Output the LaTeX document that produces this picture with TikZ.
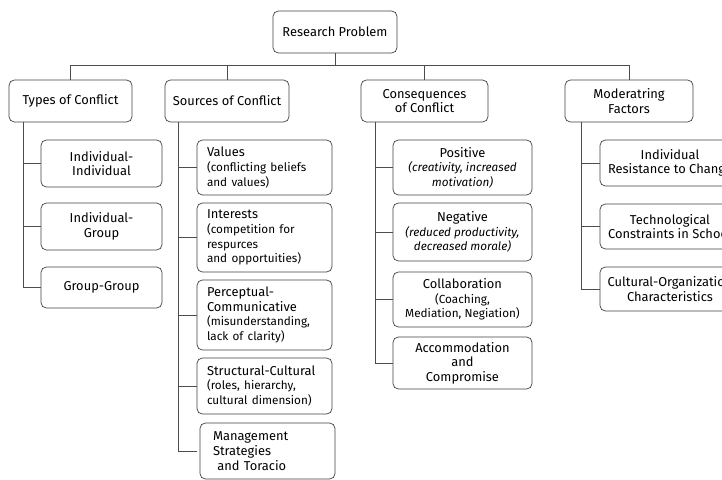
\documentclass[tikz,border=0pt]{standalone}
\usepackage{fontspec}
\setmainfont{Fira Sans}
\usepackage{tikz}

\newcommand{\desc}[1]{{\fontsize{10}{12.5}\selectfont #1}}

\begin{document}
\begin{tikzpicture}[x=0.03cm,y=-0.03cm,
          box/.style={draw=black!75, line width=0.6pt, rounded corners=0.16cm, align=center,
                      font=\fontsize{11}{12.5}\selectfont, inner sep=2pt},
          sz/.style 2 args={minimum width=#1*0.03cm, minimum height=#2*0.03cm},
          lbox/.style={box, align=left, text width=#1*0.03cm},
          wire/.style={draw=black!70, line width=0.6pt}]
          \useasboundingbox (0,0) rectangle (722,480);
          \clip (0,0) rectangle (722,480);

          \node[box, sz={124}{42}] (rp) at (335,32) {Research Problem};

          \node[box, sz={123}{42}] (types) at (70.5,101) {Types of Conflict};
          \node[box, sz={124}{42}] (sources) at (227,101) {Sources of Conflict};
          \node[box, sz={127}{42}] (conseq) at (424.5,101) {Consequences\\of Conflict};
          \node[box, sz={128}{42}] (moder) at (629,101) {Moderatring\\Factors};

          % types of conflict
          \node[box, sz={121}{47}] (ii) at (101.5,163.5) {Individual-\\Individual};
          \node[box, sz={121}{47}] (ig) at (101.5,226.5) {Individual-\\Group};
          \node[box, sz={121}{41}] (gg) at (101.5,287.5) {Group-Group};

          % sources of conflict
          \node[lbox=115, sz={135}{55}] (val) at (264.5,167.5)
            {Values\\\desc{(conflicting beliefs}\\\desc{and values)}};
          \node[lbox=115, sz={135}{69}] (int) at (264.5,237.5)
            {Interests\\\desc{(competition for}\\\desc{respurces}\\\desc{and opportuities)}};
          \node[lbox=115, sz={135}{70}] (per) at (264.5,315)
            {Perceptual-\\Communicative\\\desc{(misunderstanding,}\\\desc{lack of clarity)}};
          \node[lbox=115, sz={135}{56}] (str) at (264.5,386)
            {Structural-Cultural\\\desc{(roles, hierarchy,}\\\desc{cultural dimension)}};
          \node[lbox=109, sz={135}{56}] (mgt) at (267.5,451) {Management\\Strategies\\\ and Toracio};

          % consequences of conflict
          \node[box, sz={139}{55}] (pos) at (462.5,167.5)
            {Positive\\\desc{\itshape(creativity, increased}\\\desc{\itshape motivation)}};
          \node[box, sz={139}{58}] (neg) at (462.5,232)
            {Negative\\\desc{\itshape(reduced productivity,}\\\desc{\itshape decreased morale)}};
          \node[box, sz={139}{55}] (col) at (462.5,299.5)
            {Collaboration\\\desc{(Coaching,}\\\desc{Mediation, Negiation)}};
          \node[box, sz={139}{52}] (acc) at (462.5,363) {Accommodation\\and\\Compromise};

          % moderating factors
          \node[box, sz={140}{46}] (ind) at (670,163) {Individual\\Resistance to Change};
          \node[box, sz={140}{45}] (tec) at (670,226.5) {Technological\\Constraints in School};
          \node[box, sz={140}{44}] (cul) at (670,289) {Cultural-Organization\\Characteristics};

          % top bus
          \draw[wire] (rp.south) -- ++(0,12) coordinate (bus);
          \draw[wire] (types.north) |- (bus) -| (moder.north);
          \draw[wire] (sources.north) -- (sources.north |- bus);
          \draw[wire] (conseq.north) -- (conseq.north |- bus);

          % spines
          \coordinate (tsp) at (23,122);
          \coordinate (ssp) at (178,122);
          \coordinate (csp) at (375,122);
          \coordinate (msp) at (581,122);

          \draw[wire] (tsp) |- (gg.west);
          \foreach \c in {ii,ig} \draw[wire] (tsp |- \c.west) -- (\c.west);

          \draw[wire] (ssp) |- (mgt.west -| val.west);
          \foreach \c in {val,int,per,str} \draw[wire] (ssp |- \c.west) -- (\c.west);

          \draw[wire] (csp) |- (acc.west);
          \foreach \c in {pos,neg,col} \draw[wire] (csp |- \c.west) -- (\c.west);

          \draw[wire] (msp) |- (cul.west);
          \foreach \c in {ind,tec} \draw[wire] (msp |- \c.west) -- (\c.west);
        \end{tikzpicture}
\end{document}
